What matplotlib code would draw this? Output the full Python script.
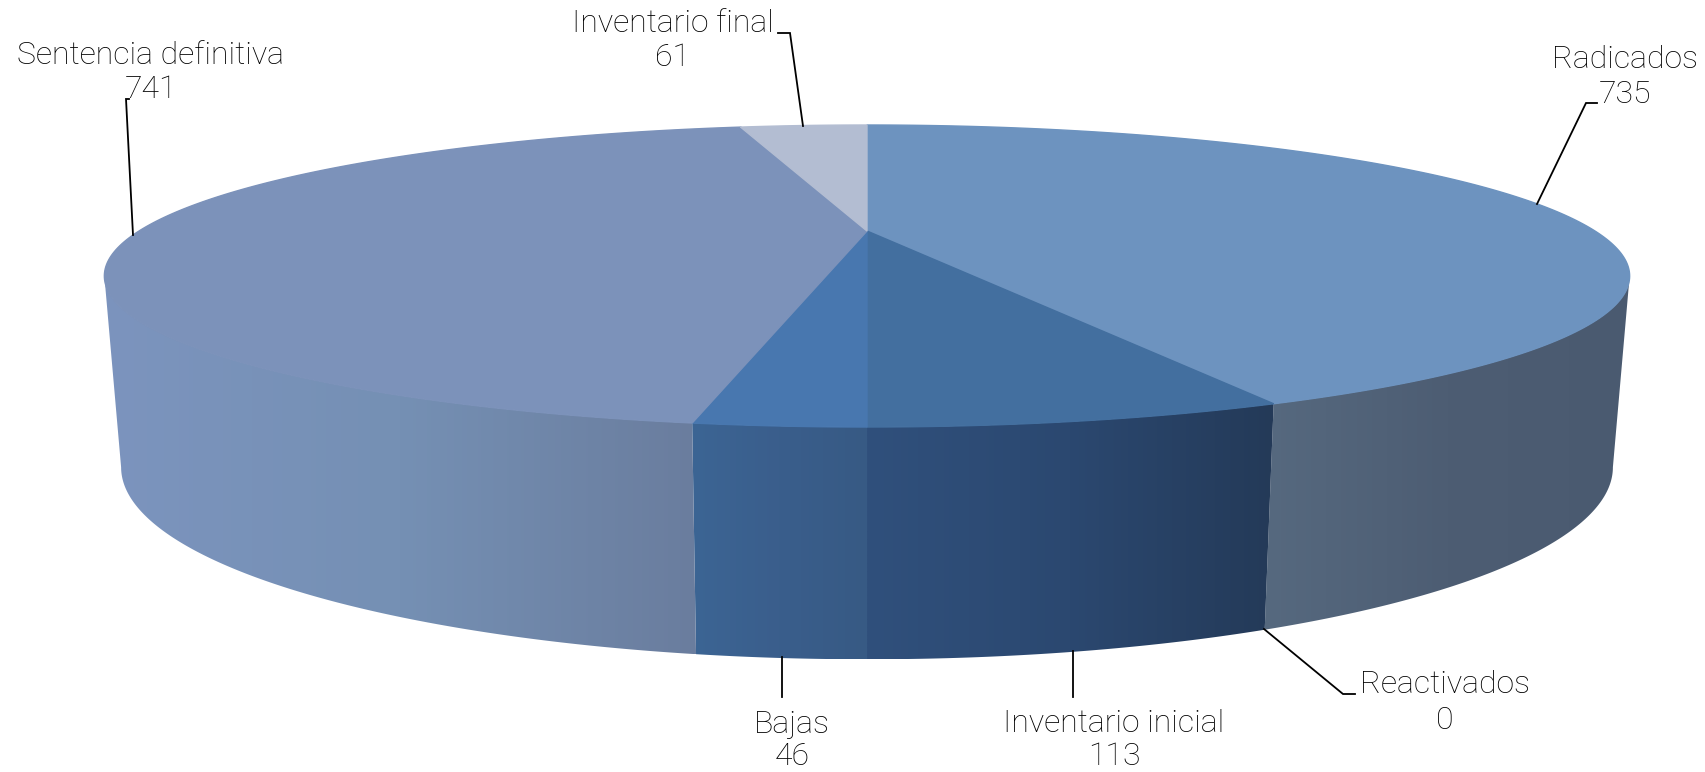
import numpy as np
from matplotlib import pyplot as plt
from matplotlib.colors import to_rgb
from matplotlib.patches import Polygon

# values clockwise from 12 o'clock
categories = ['Radicados', 'Reactivados', 'Inventario inicial', 'Bajas', 'Sentencia definitiva', 'Inventario final']
values = [735, 0, 113, 46, 741, 61]

top_colors = ['#6D93BF', '#6D93BF', '#436F9F', '#4877AF', '#7C92BA', '#B3BDD2']
# wall shading, left to right across each slice
side_colors = [('#56697F', '#4D5D73', '#4A5A70'), ('#56697F', '#4D5D73', '#4A5A70'),
               ('#30507C', '#2B4870', '#243A58'), ('#3C6594', '#3A5E8C', '#375A84'),
               ('#7C94BE', '#7590B4', '#6A7D9E'), ('#B3BDD2', '#B3BDD2', '#B3BDD2')]

# label placement in pixels: centre x, baseline of name, baseline of value
label_pos = [(1625, 68, 103), (1445, 693, 729), (1114, 732, 765),
             (792, 733, 765), (151, 64, 98), (673, 32, 66)]
leaders = [[(1597, 103), (1586, 103), (1537, 204)],
           [(1264, 629), (1343, 694), (1355, 694)],
           [(1073, 651), (1073, 697)],
           [(782, 657), (782, 697)],
           [(129, 99), (126, 99), (133, 235)],
           [(778, 33), (790, 33), (803, 126)]]

# perspective of the disc
CX = 867
K = 0.298
TOP = dict(a=728, b=137.6, y0=231)
BOTTOM = dict(a=712, b=175, y0=410)


def project(theta, plane):
    u, v = np.sin(theta), np.cos(theta)
    w = 1 + K * v
    return CX + plane['a'] * u / w, plane['y0'] - plane['b'] * v / w


fig = plt.figure(figsize=(17.06, 7.72), dpi=100)
ax = fig.add_axes([0, 0, 1, 1])

edges = np.concatenate([[0], np.cumsum(values)]) / np.sum(values) * 2 * np.pi
tangent = np.arccos(-K)

# walls: a horizontal gradient clipped to the outline of each slice
for i in range(len(values)):
    start = max(edges[i], tangent)
    stop = min(edges[i + 1], 2 * np.pi - tangent)
    if stop <= start:
        continue
    th = np.linspace(start, stop, 200)
    xt, yt = project(th, TOP)
    xb, yb = project(th, BOTTOM)
    outline = np.c_[np.r_[xt, xb[::-1]], np.r_[yt, yb[::-1]]]
    x0, x1 = outline[:, 0].min(), outline[:, 0].max()
    y0, y1 = outline[:, 1].min(), outline[:, 1].max()
    rgb = np.array([to_rgb(c) for c in side_colors[i]])
    pos = np.linspace(0, 1, 400)
    grad = np.stack([np.interp(pos, [0, 0.5, 1], rgb[:, c]) for c in range(3)], axis=-1)[None, :, :]
    patch = Polygon(outline, closed=True, transform=ax.transData, fc='none', ec='none')
    ax.add_patch(patch)
    im = ax.imshow(grad, extent=(x0, x1, y1, y0), aspect='auto', interpolation='bilinear')
    im.set_clip_path(patch)

# top of the disc, the thick edge hides the seam against the walls
for i in range(len(values)):
    if values[i] == 0:
        continue
    th = np.linspace(edges[i], edges[i + 1], 200)
    x, y = project(th, TOP)
    ax.fill(np.r_[CX, x], np.r_[TOP['y0'], y], color=top_colors[i], lw=1)

for pts in leaders:
    ax.plot(*zip(*pts), color='black', lw=1.3, solid_joinstyle='miter')

for name, val, (x, y1, y2) in zip(categories, values, label_pos):
    ax.text(x, y1, name, ha='center', va='baseline', fontsize=23, family='Roboto', fontweight='light', color='black')
    ax.text(x, y2, str(val), ha='center', va='baseline', fontsize=23, family='Roboto', fontweight='light', color='black')

ax.set_xlim(0, 1706)
ax.set_ylim(772, 0)
ax.axis('off')

fig.savefig('out.png', dpi=100)
